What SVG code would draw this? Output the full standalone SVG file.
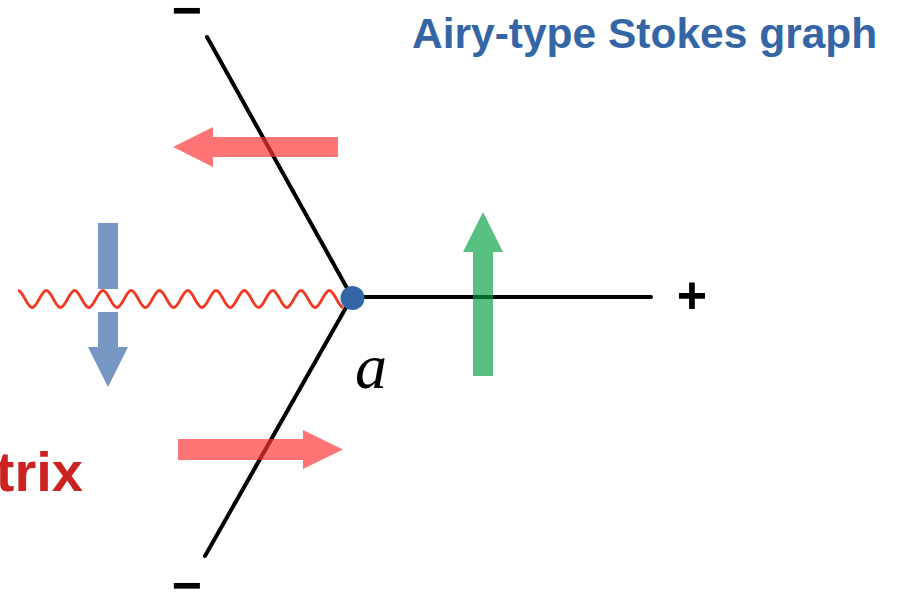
<svg xmlns="http://www.w3.org/2000/svg" width="899" height="594" viewBox="0 0 899 594">
<style>
.ln{stroke:#000;stroke-width:4;fill:none;stroke-linecap:round}
.red{fill:#ff3333;opacity:0.68}
.blue{fill:#3465a4;opacity:0.68}
.green{fill:#00a040;opacity:0.66}
.sign{font-family:"Liberation Sans",Arial,sans-serif;font-weight:bold;font-size:52px;fill:#000}
</style>
<rect width="899" height="594" fill="#fff"/>
<g id="connectors">
<line class="ln" x1="352" y1="297" x2="207" y2="37"/>
<line class="ln" x1="352" y1="297" x2="205" y2="556"/>
<line class="ln" x1="352" y1="297" x2="651" y2="297"/>
<path id="branch-cut" d="M18,290.5 c5.1,0 9.05,17 14.15,17 s9.05,-17 14.15,-17 s9.05,17 14.15,17 s9.05,-17 14.15,-17 s9.05,17 14.15,17 s9.05,-17 14.15,-17 s9.05,17 14.15,17 s9.05,-17 14.15,-17 s9.05,17 14.15,17 s9.05,-17 14.15,-17 s9.05,17 14.15,17 s9.05,-17 14.15,-17 s9.05,17 14.15,17 s9.05,-17 14.15,-17 s9.05,17 14.15,17 s9.05,-17 14.15,-17 s9.05,17 14.15,17 s9.05,-17 14.15,-17 s9.05,17 14.15,17 s9.05,-17 14.15,-17 s9.05,17 14.15,17 s9.05,-17 14.15,-17 s9.05,17 14.15,17" fill="none" stroke="#f03a26" stroke-width="2.8"/>
</g>
<g id="arrow-upper-left"><polygon class="red" points="338,137 213,137 213,127 173,147 213,167 213,157 338,157"/></g>
<g id="arrow-lower"><polygon class="red" points="178,439 303,439 303,430 343,449.5 303,469 303,460 178,460"/></g>
<g id="arrow-blue">
<rect class="blue" x="98" y="223" width="20" height="66"/>
<polygon class="blue" points="98,312 118,312 118,347 128,347 108,387 88,347 98,347"/>
</g>
<g id="arrow-green"><polygon class="green" points="473,376 473,252 463,252 483,212 503,252 493,252 493,376"/></g>
<g id="turning-point">
<circle cx="352.5" cy="298" r="12" fill="#3465a4"/>
<text x="355" y="388" font-family="'Liberation Serif','Times New Roman',serif" font-style="italic" font-size="64" fill="#000">a</text>
</g>
<g id="signs">
<text class="sign" x="187" y="28" text-anchor="middle">−</text>
<text class="sign" x="187" y="603" text-anchor="middle">−</text>
<text class="sign" x="692" y="313" text-anchor="middle">+</text>
</g>
<text id="title" x="412" y="48" font-family="'Liberation Sans',Arial,sans-serif" font-weight="bold" font-size="42.5" fill="#3465a4">Airy-type Stokes graph</text>
<text id="matrix-label" x="83" y="491" text-anchor="end" font-family="'Liberation Sans',Arial,sans-serif" font-weight="bold" font-size="56" fill="#cc2222">trix</text>
</svg>
